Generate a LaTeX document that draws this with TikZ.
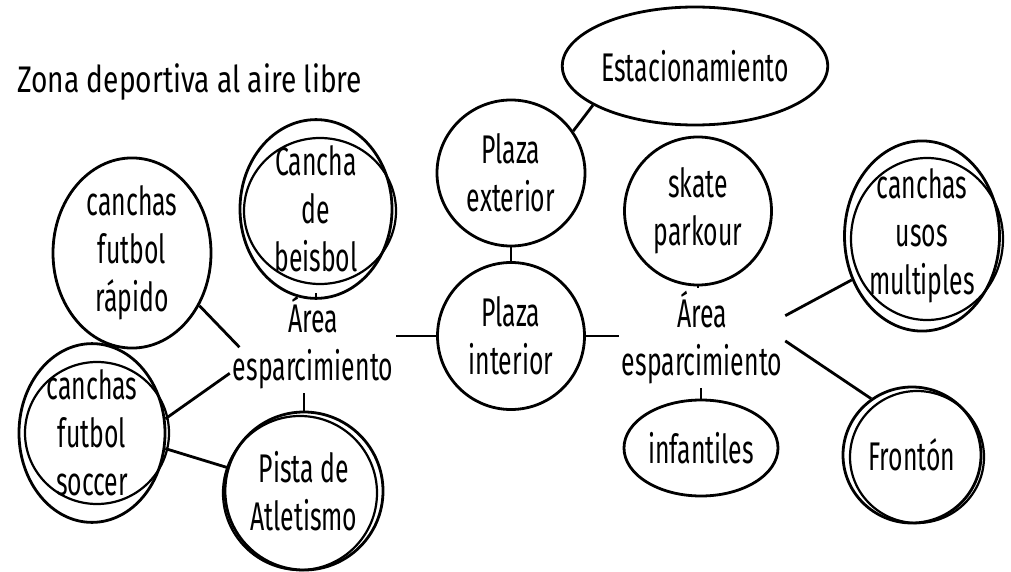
\documentclass[tikz,border=0pt]{standalone}
\usepackage{fontspec}
\setmainfont{Fira Sans}[FakeStretch=0.62]
\newfontfamily\titlefont{Fira Sans}[FakeStretch=0.76]
\usetikzlibrary{shapes.geometric}
\begin{document}
\begin{tikzpicture}[x=1pt,y=-1pt,
  every node/.style={font=\fontsize{40}{48}\selectfont, align=center},
  bub/.style={draw, ellipse, line width=2.8pt, inner sep=0pt},
  ring/.style={line width=2.2pt},
  conn/.style={line width=2.8pt},
  lbl/.style={inner sep=3pt}]
\useasboundingbox (0,0) rectangle (1011,572);
% title
\node[anchor=west, inner sep=0pt, font=\titlefont\fontsize{37}{44}\selectfont] (title) at (17,82) {Zona deportiva al aire libre};
% left cluster
\node[bub, minimum width=158, minimum height=158] (rapido) at (132,253) {canchas\\futbol\\rápido};
\node[bub, minimum width=152, minimum height=150] (beisbol) at (316,209) {Cancha\\de\\beisbol};
\draw[ring] (320,211) ellipse [x radius=76, y radius=73];
\node[bub, minimum width=146, minimum height=146] (soccer) at (92,433) {canchas\\futbol\\soccer};
\draw[ring] (97,433) ellipse [x radius=72, y radius=71];
\node[bub, minimum width=158, minimum height=158] (pista) at (304,491) {Pista de\\Atletismo};
\draw[ring] (300,493) ellipse [x radius=77, y radius=77];
\node[lbl] (areaL) at (313,343) {Área\\esparcimiento};
% center
\node[bub, minimum width=147, minimum height=147] (pinterior) at (511,336) {Plaza\\interior};
\node[bub, minimum width=148, minimum height=146] (pexterior) at (511,173) {Plaza\\exterior};
\node[bub, minimum width=236, minimum height=118] (estac) at (695,66) {Estacionamiento};
% right cluster
\node[bub, minimum width=147, minimum height=148] (skate) at (698,211) {skate\\parkour};
\node[bub, minimum width=155, minimum height=165] (usos) at (922,236) {canchas\\usos\\multiples};
\draw[ring] (927,239) ellipse [x radius=76, y radius=81];
\node[lbl] (areaR) at (702,338) {Área\\esparcimiento};
\node[bub, minimum width=154, minimum height=96] (infant) at (701,448) {infantiles};
\node[bub, minimum width=138, minimum height=136] (fronton) at (912,455) {Frontón};
\draw[ring] (917,457) ellipse [x radius=67, y radius=66];
% connectors
\draw[conn, shorten >=-14pt] (rapido.-38) -- (areaL.176);
\draw[conn] (areaL.200) -- (soccer.11);
\draw[conn] (soccer.-12) -- (pista.163);
\draw[conn] (beisbol.south) -- (beisbol.south |- areaL.north);
\draw[conn] (pista.north) -- (pista.north |- areaL.south);
\draw[conn] (pinterior.west -| areaL.east) -- (pinterior.west);
\draw[conn] (pexterior) -- (pinterior);
\draw[conn] (pexterior.34) -- (estac.201);
\draw[conn] (pinterior.east) -- (pinterior.east -| areaR.west);
\draw[conn] (skate.south) -- (skate.south |- areaR.north);
\draw[conn] (areaR.15) -- (usos.212);
\draw[conn] (areaR.-2) -- (fronton.126);
\draw[conn] (infant.north) -- (infant.north |- areaR.south);
\end{tikzpicture}
\end{document}
